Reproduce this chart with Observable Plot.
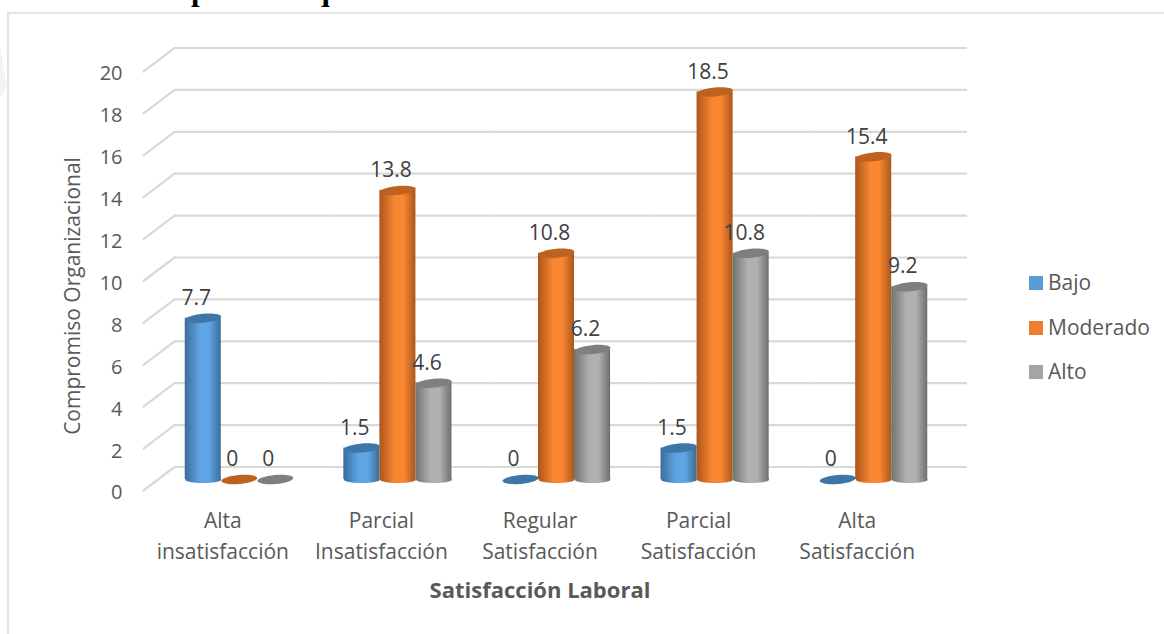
<!DOCTYPE html>
<html lang="es">
<head>
<meta charset="utf-8">
<script src="https://cdn.jsdelivr.net/npm/d3@7"></script>
<script src="https://cdn.jsdelivr.net/npm/@observablehq/plot@0.6"></script>
<style>
  html, body { margin: 0; padding: 0; background: #fff; overflow: hidden; }
  #page { position: relative; width: 1164px; height: 634px; overflow: hidden; font-family: "Open Sans", sans-serif; }
  #page svg { position: absolute; left: 0; top: 0; }
  #heading { position: absolute; left: 191px; top: -28px; white-space: nowrap; font: bold 31px/36px "Liberation Serif", serif; color: #000; }
  #rule-top { position: absolute; left: 7px; right: 0; top: 12px; height: 1.5px; background: #e4e4e4; }
  #rule-left { position: absolute; left: 7px; top: 12px; bottom: 0; width: 2px; background: #e2e2e2; }
  #seal { position: absolute; left: 0; top: 47px; width: 7px; height: 50px; background: #eef3f3; clip-path: polygon(0 0, 100% 80%, 0 100%); }
  #legend { position: absolute; left: 1029px; top: 260px; color: #595959; font-size: 21px; }
  #legend div { height: 44.5px; line-height: 44.5px; white-space: nowrap; }
  #legend i { display: inline-block; width: 14px; height: 14px; margin-right: 5px; vertical-align: 0px; }
</style>
</head>
<body>
<div id="page">
  <div id="rule-top"></div>
  <div id="rule-left"></div>
  <div id="seal"></div>
  <div id="heading">personal que labora en el Centro de Salud Ciudad de Dios</div>
  <div id="legend"></div>
</div>
<script>
const categories = [
  "Alta\ninsatisfacción",
  "Parcial\nInsatisfacción",
  "Regular\nSatisfacción",
  "Parcial\nSatisfacción",
  "Alta\nSatisfacción"
];
const seriesNames = ["Bajo", "Moderado", "Alto"];
const bajo = [7.7, 1.5, 0, 1.5, 0];
const moderado = [0, 13.8, 10.8, 18.5, 15.4];
const alto = [0, 4.6, 6.2, 10.8, 9.2];
const yTicks = [0, 2, 4, 6, 8, 10, 12, 14, 16, 18, 20];

const legendColors = {Bajo: "#5b9bd5", Moderado: "#ed7d31", Alto: "#a5a5a5"};
const capColors = {Bajo: "#3f76a8", Moderado: "#bd6220", Alto: "#7f7f7f"};
const bodyStops = {
  Bajo: ["#3a6d9c", "#5fa4e3", "#3a6d97"],
  Moderado: ["#aa561c", "#f98631", "#a9571d"],
  Alto: ["#727272", "#b0b0b0", "#6e6e6e"]
};

const rows = [];
seriesNames.forEach((series, s) => {
  const values = [bajo, moderado, alto][s];
  categories.forEach((category, c) => rows.push({category, series, value: values[c]}));
});

// Flattened, slightly tilted ellipse used for the cylinder caps and bases.
function capSymbol(tilt, flatness) {
  return {
    draw(context, size) {
      const rx = Math.sqrt(size / Math.PI);
      const ry = rx * flatness;
      const t = tilt * Math.PI / 180, cos = Math.cos(t), sin = Math.sin(t);
      const k = 0.5523;
      const at = (u, v) => [u * cos - v * sin, u * sin + v * cos];
      context.moveTo(...at(rx, 0));
      context.bezierCurveTo(...at(rx, k * ry), ...at(k * rx, ry), ...at(0, ry));
      context.bezierCurveTo(...at(-k * rx, ry), ...at(-rx, k * ry), ...at(-rx, 0));
      context.bezierCurveTo(...at(-rx, -k * ry), ...at(-k * rx, -ry), ...at(0, -ry));
      context.bezierCurveTo(...at(k * rx, -ry), ...at(rx, -k * ry), ...at(rx, 0));
      context.closePath();
    }
  };
}

// Line segment for the diagonal floor ticks joining the front edge to the back wall.
const floorTick = {
  draw(context, length) {
    context.moveTo(0, 0);
    context.lineTo(0, -length);
  }
};

const depthX = 31, depthY = -23.5;      // front edge to back wall
const barDx = 16.5, barDy = -11;        // front edge to the row of columns
const tickColor = "#595959", gridColor = "#d9d9d9";

const chart = Plot.plot({
  width: 1164,
  height: 634,
  marginTop: 71,
  marginBottom: 144,
  marginLeft: 143,
  marginRight: 228,
  style: {fontFamily: "'Open Sans', sans-serif", background: "transparent"},
  fx: {domain: categories, paddingInner: 0, paddingOuter: 0, round: false, axis: null},
  x: {domain: seriesNames, paddingInner: 0, paddingOuter: 0.7, round: false, axis: null},
  y: {domain: [0, 20], axis: null},
  color: {type: "identity"},
  marks: [
    // Back wall lines repeat in every facet and join into one continuous line.
    Plot.ruleY(yTicks, {y: d => d, dx: depthX, dy: depthY, stroke: gridColor, strokeWidth: 2.2}),
    Plot.vector(yTicks, {
      y: d => d, frameAnchor: "left", anchor: "start", shape: floorTick,
      length: Math.hypot(depthX, depthY), rotate: Math.atan2(depthX, -depthY) * 180 / Math.PI,
      stroke: gridColor, strokeWidth: 2.2, facetAnchor: "left"
    }),
    Plot.axisY({ticks: yTicks, tickSize: 0, tickPadding: 21, dy: 2.5, fontSize: 20, color: tickColor, label: null}),
    Plot.axisFx({anchor: "bottom", tickSize: 0, tickPadding: 16, fontSize: 21, lineHeight: 1.45, color: tickColor, label: null}),
    Plot.text(["Compromiso Organizacional"], {
      text: d => d, frameAnchor: "left", textAnchor: "middle", rotate: -90, dx: -70, dy: 15,
      fontSize: 21, fill: tickColor, facetAnchor: "left"
    }),
    Plot.text(["Satisfacción Laboral"], {
      text: d => d, frameAnchor: "bottom", dy: 107, fontSize: 22, fontWeight: "bold", fill: tickColor, facet: "super"
    }),
    // Cylinder bases, bodies and caps.
    Plot.dot(rows.filter(d => d.value > 0), {
      fx: "category", x: "series", y: () => 0, r: 18, symbol: capSymbol(0, 0.2),
      fill: d => `url(#body-${d.series})`, dx: barDx, dy: barDy
    }),
    Plot.barY(rows.filter(d => d.value > 0), {
      fx: "category", x: "series", y: "value",
      fill: d => `url(#body-${d.series})`, dx: barDx, dy: barDy
    }),
    Plot.dot(rows, {
      fx: "category", x: "series", y: "value", r: 18, symbol: capSymbol(-5, 0.25),
      fill: d => capColors[d.series], dx: barDx, dy: barDy
    }),
    Plot.text(rows, {
      fx: "category", x: "series", y: "value", text: d => String(d.value),
      fontSize: 21, fill: "#404040", dx: barDx - 7, dy: barDy - 20
    })
  ]
});

// Horizontal shading that gives the columns their rounded look.
const defs = document.createElementNS("http://www.w3.org/2000/svg", "defs");
defs.innerHTML = seriesNames.map(name => {
  const [edgeLeft, mid, edgeRight] = bodyStops[name];
  return `<linearGradient id="body-${name}" x1="0" x2="1" y1="0" y2="0">
    <stop offset="0" stop-color="${edgeLeft}"/>
    <stop offset="0.42" stop-color="${mid}"/>
    <stop offset="0.68" stop-color="${mid}"/>
    <stop offset="1" stop-color="${edgeRight}"/>
  </linearGradient>`;
}).join("");
chart.prepend(defs);
document.getElementById("page").append(chart);

document.getElementById("legend").innerHTML = seriesNames
  .map(name => `<div><i style="background:${legendColors[name]}"></i>${name}</div>`)
  .join("");
</script>
</body>
</html>
